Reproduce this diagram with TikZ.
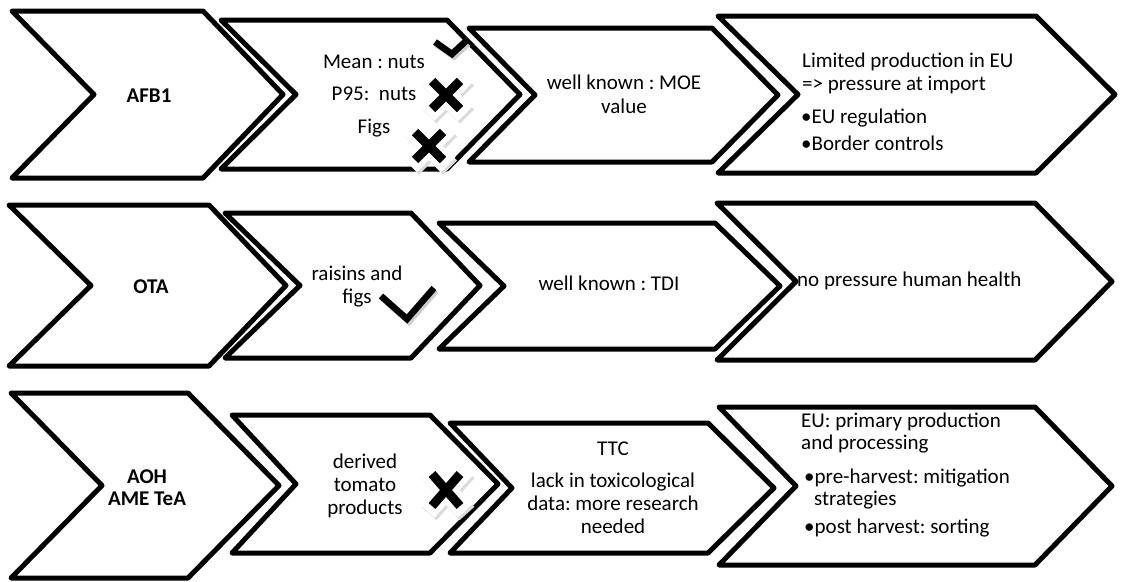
\documentclass[tikz,border=0pt]{standalone}
\usepackage{fontspec}
\setmainfont{Carlito}
\frenchspacing
\newcommand{\mychev}[7]{%
  \fill[white] (#2,#3) -- ({#4-#6},#3) -- (#4,{(#3+#5)/2}) -- ({#4-#6},#5) -- (#2,#5) -- ({#2+#7},{(#3+#5)/2}) -- cycle;
  \draw[chev] (#2,#3) -- ({#4-#6},#3) -- (#4,{(#3+#5)/2}) -- ({#4-#6},#5) -- (#2,#5) -- ({#2+#7},{(#3+#5)/2}) -- cycle;
  \draw[chevcore] (#2,#3) -- ({#4-#6},#3) -- (#4,{(#3+#5)/2}) -- ({#4-#6},#5) -- (#2,#5) -- ({#2+#7},{(#3+#5)/2}) -- cycle;
  \coordinate (#1) at ({(#2+#4)/2},{(#3+#5)/2});
}
\newcommand{\mycross}[5]{%
  \coordinate (#1) at (#2,#3);
  \begin{scope}[shift={(#1)}]
    \draw[haloshadow] ({-#4-5+2},{-#5-5+2.5}) -- ({#4+5+2},{#5+5+2.5}) ({-#4-5+2},{#5+5+2.5}) -- ({#4+5+2},{-#5-5+2.5});
    \draw[halo] ({-#4-5},{-#5-5}) -- ({#4+5},{#5+5}) ({-#4-5},{#5+5}) -- ({#4+5},{-#5-5});
    \draw[ink] ({-#4},{-#5}) -- ({#4},{#5}) ({-#4},{#5}) -- ({#4},{-#5});
  \end{scope}
}
\begin{document}
\begin{tikzpicture}[x=1pt,y=-1pt,
  chev/.style={draw=black,line width=5pt,line join=round},
  chevcore/.style={draw=black,line width=2.5pt,line join=round},
  lbl/.style={inner sep=0pt,font=\fontsize{21}{23.5}\selectfont},
  lblb/.style={inner sep=0pt,font=\fontsize{21}{23.5}\selectfont\bfseries},
  halo/.style={white,line width=20pt,line cap=butt},
  haloshadow/.style={black!14,line width=20pt,line cap=butt},
  ink/.style={black,line width=9pt,line cap=butt},
  tick/.style={black,line width=6.5pt,line cap=butt,line join=miter},
  tickshadow/.style={black!20,line width=6.5pt,line cap=butt,line join=miter}
]
\useasboundingbox[fill=white] (0,0) rectangle (1121,581);

% ---- row 1
\mychev{c11}{12}{11}{283}{178}{80}{82}
\mychev{c12}{221}{20}{520}{169}{73}{75}
\mychev{c13}{469}{28}{778}{162}{66}{66}
\mychev{c14}{718}{16}{1115}{173}{79}{80}
% ---- row 2
\mychev{c21}{9}{205}{286}{366}{77}{82}
\mychev{c22}{225}{213}{480}{358}{69}{75}
\mychev{c23}{439}{223}{780}{349}{65}{65}
\mychev{c24}{717}{203}{1112}{360}{77}{79}
% ---- row 3
\mychev{c31}{11}{393}{279}{578}{91}{91}
\mychev{c32}{232}{415}{498}{553}{68}{64}
\mychev{c33}{450}{423}{774}{553}{66}{62}
\mychev{c34}{719}{407}{1112}{565}{77}{77}

% ---- texts row 1
\node[lblb,anchor=base] (t11) at (149,102) {AFB1};
\node[lbl,anchor=base] (t12a) at (374,68) {Mean : nuts};
\node[lbl,anchor=base] (t12b) at (374,100) {P95:\ \ nuts};
\node[lbl,anchor=base] (t12c) at (374,133) {Figs};
\node[lbl,anchor=base] (t13a) at (624,89) {well known : MOE};
\node[lbl,anchor=base] (t13b) at (624,113) {value};
\node[lbl,anchor=base west] (t14a) at (802,67) {Limited production in EU};
\node[lbl,anchor=base west] (t14b) at (802,90) {=> pressure at import};
\node[lbl,anchor=base west] (t14c) at (801,123) {•EU regulation};
\node[lbl,anchor=base west] (t14d) at (801,150) {•Border controls};

% ---- texts row 2
\node[lblb,anchor=base] (t21) at (151,293) {OTA};
\node[lbl,anchor=base] (t22a) at (357,280) {raisins and};
\node[lbl,anchor=base] (t22b) at (357,303) {figs};
\node[lbl,anchor=base] (t23) at (609,290) {well known : TDI};
\node[lbl,anchor=base west] (t24) at (797,286) {no pressure human health};

% ---- texts row 3
\node[lblb,anchor=base] (t31a) at (147,483) {AOH};
\node[lblb,anchor=base] (t31b) at (147,505) {AME TeA};
\node[lbl,anchor=base] (t32a) at (365,468) {derived};
\node[lbl,anchor=base] (t32b) at (365,491) {tomato};
\node[lbl,anchor=base] (t32c) at (365,514) {products};
\node[lbl,anchor=base] (t33a) at (613,455) {TTC};
\node[lbl,anchor=base] (t33b) at (613,487) {lack in toxicological};
\node[lbl,anchor=base] (t33c) at (613,510) {data: more research};
\node[lbl,anchor=base] (t33d) at (613,533) {needed};
\node[lbl,anchor=base west] (t34a) at (801,427) {EU: primary production};
\node[lbl,anchor=base west] (t34b) at (801,449) {and processing};
\node[lbl,anchor=base west] (t34c) at (804,483) {•pre-harvest: mitigation};
\node[lbl,anchor=base west] (t34d) at (814,505) {strategies};
\node[lbl,anchor=base west] (t34e) at (804,533) {•post harvest: sorting};

% ---- marks
\draw[tickshadow] (437,44.5) -- (454,56.5) -- (468,43.5);
\draw[tick] (435,42) -- (452,54) -- (466,41);
\mycross{x1}{446}{95}{14}{14}
\mycross{x2}{429}{146}{14}{14}
\draw[tickshadow] (383,298.5) -- (409,321.5) -- (436,290.5);
\draw[tick] (381,296) -- (407,319) -- (434,288);
\mycross{x3}{446}{490}{14}{16}
\end{tikzpicture}
\end{document}
